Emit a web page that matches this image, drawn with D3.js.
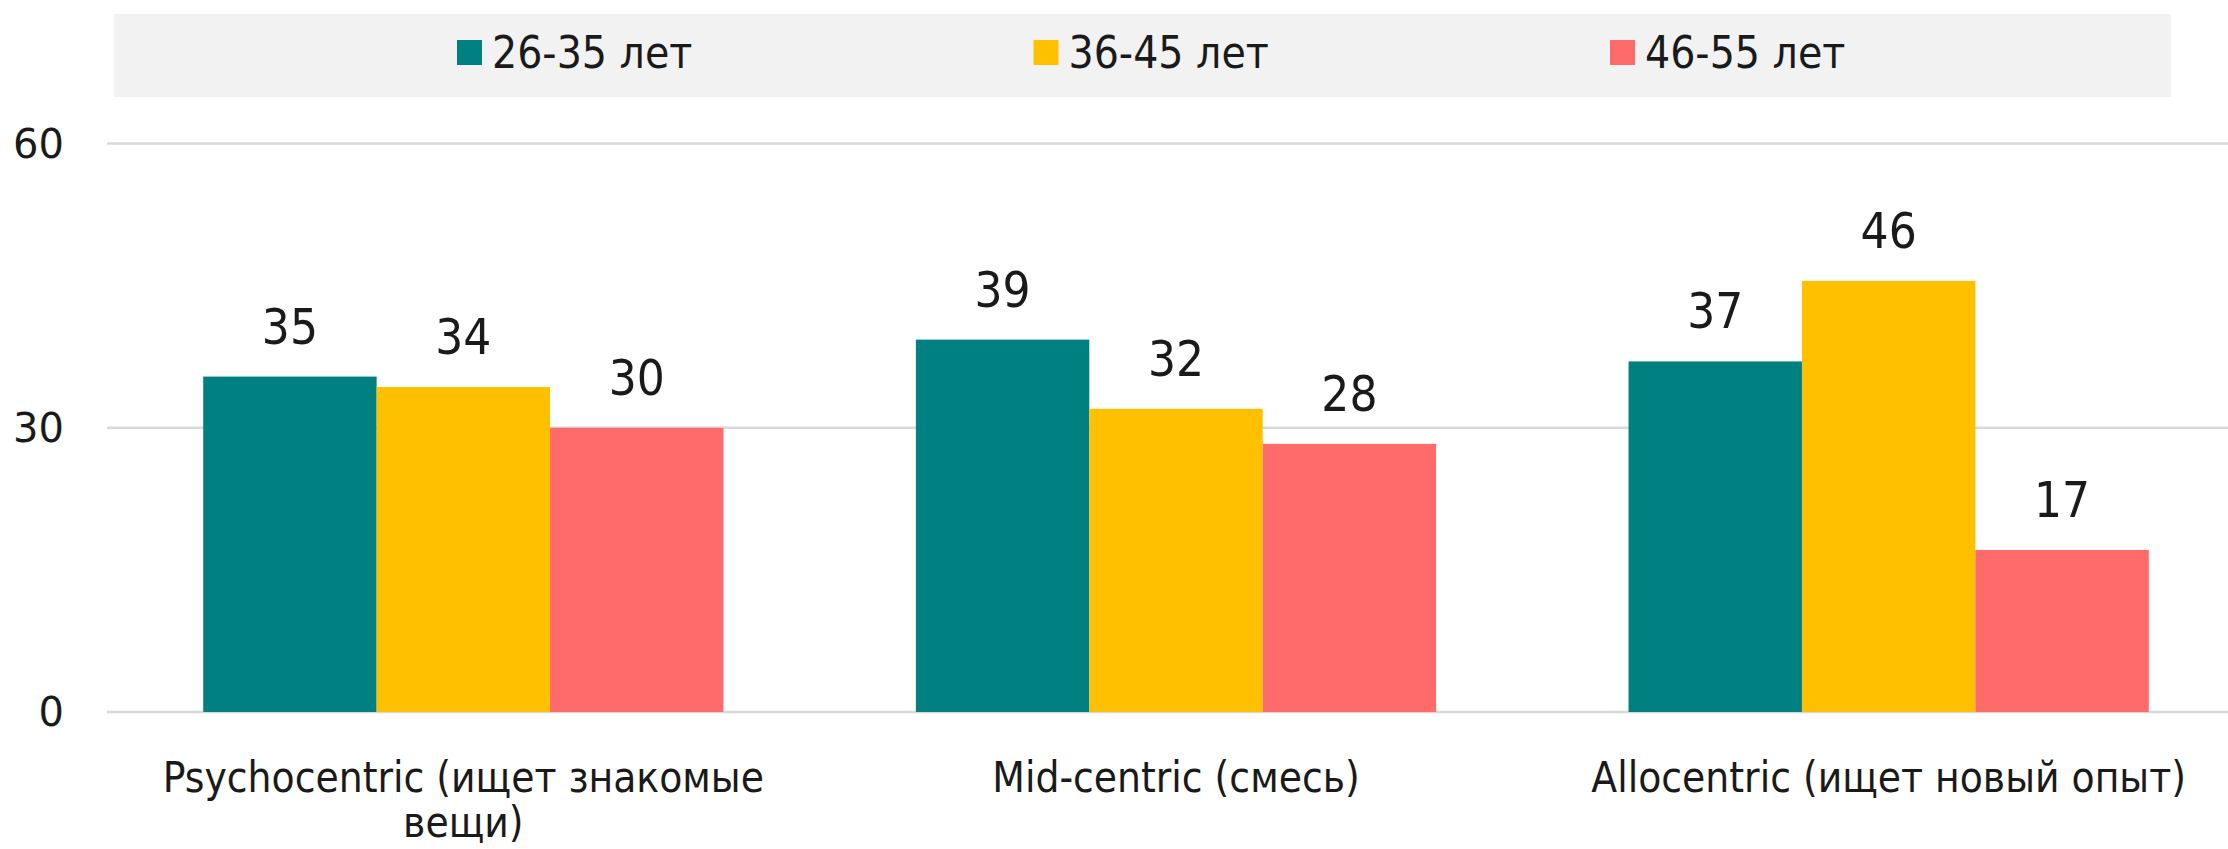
<!DOCTYPE html>
<html>
<head>
<meta charset="utf-8">
<script src="https://cdn.jsdelivr.net/npm/d3@7"></script>
<style>
  body { margin: 0; background: #fff; }
  svg text { fill: #1a1a1a; }
</style>
</head>
<body>
<svg id="chart"></svg>
<script>
const categories = ['Psychocentric (ищет знакомые вещи)', 'Mid-centric (смесь)', 'Allocentric (ищет новый опыт)'];
const series = ['26-35 лет', '36-45 лет', '46-55 лет'];
const values2635 = [35.4, 39.3, 37.0];
const values3645 = [34.3, 32.0, 45.5];
const values4655 = [30.0, 28.3, 17.1];
const yTicks = [0, 30, 60];
const colors = ['#008080', '#ffc000', '#ff6b6b'];

const width = 2228, height = 849;
const condensed = '"DejaVu Sans Condensed", "Liberation Sans Narrow", sans-serif';
const digits = '"DejaVu Sans", sans-serif';
const fmt = d3.format('.0f');

const svg = d3.select('#chart').attr('width', width).attr('height', height);

const rows = categories.map((c, i) => ({ cat: c, vals: [values2635[i], values3645[i], values4655[i]] }));

const x = d3.scaleBand().domain(categories).range([107, 2245]).paddingInner(0.27).paddingOuter(0.135);
const xs = d3.scaleBand().domain(series).range([0, x.bandwidth()]);
const y = d3.scaleLinear().domain([0, 60]).range([712, 143.5]);

// legend box
svg.append('rect').attr('x', 114).attr('y', 14).attr('width', 2057).attr('height', 83).attr('fill', '#f2f2f2');
const lx = d3.scaleBand().domain(series).range([457, 457 + 3 * 576.5]);
series.forEach((s, i) => {
  svg.append('rect').attr('x', lx(s)).attr('y', 40).attr('width', 25).attr('height', 25).attr('fill', colors[i]);
  svg.append('text').attr('x', lx(s) + 35).attr('y', 53).attr('dy', '0.35em')
    .style('font-family', condensed).style('font-size', '44px').text(s);
});

// gridlines + y labels
svg.selectAll('.grid').data(yTicks).enter().append('line')
  .attr('x1', 107).attr('x2', width).attr('y1', d => y(d)).attr('y2', d => y(d))
  .attr('stroke', '#d9d9d9').attr('stroke-width', 2.5);
svg.selectAll('.ytick').data(yTicks).enter().append('text')
  .attr('x', 64).attr('y', d => y(d)).attr('dy', '0.36em').attr('text-anchor', 'end')
  .style('font-family', digits).style('font-size', '40px').text(d => d);

// bars
const g = svg.selectAll('.grp').data(rows).enter().append('g')
  .attr('transform', d => `translate(${x(d.cat)},0)`);
g.selectAll('rect').data(d => d.vals.map((v, i) => ({ s: series[i], v, i }))).enter().append('rect')
  .attr('x', d => xs(d.s)).attr('width', xs.bandwidth())
  .attr('y', d => y(d.v)).attr('height', d => y(0) - y(d.v))
  .attr('fill', d => colors[d.i]);
g.selectAll('.val').data(d => d.vals.map((v, i) => ({ s: series[i], v, i }))).enter().append('text')
  .attr('x', d => xs(d.s) + xs.bandwidth() / 2).attr('y', d => y(d.v) - 33)
  .attr('text-anchor', 'middle')
  .style('font-family', condensed).style('font-size', '49px').text(d => fmt(d.v));

// category labels with wrapping
svg.selectAll('.cat').data(categories).enter().append('text')
  .attr('x', d => x(d) + x.bandwidth() / 2).attr('y', 792)
  .attr('text-anchor', 'middle')
  .style('font-family', condensed).style('font-size', '42px')
  .each(function (d) {
    const t = d3.select(this);
    const words = d.split(' ');
    let line = [];
    let tspan = t.append('tspan').attr('x', x(d) + x.bandwidth() / 2).attr('dy', 0);
    words.forEach(w => {
      line.push(w);
      tspan.text(line.join(' '));
      if (tspan.node().getComputedTextLength() > 650 && line.length > 1) {
        line.pop();
        tspan.text(line.join(' '));
        line = [w];
        tspan = t.append('tspan').attr('x', x(d) + x.bandwidth() / 2).attr('dy', '1.08em').text(w);
      }
    });
  });
</script>
</body>
</html>
